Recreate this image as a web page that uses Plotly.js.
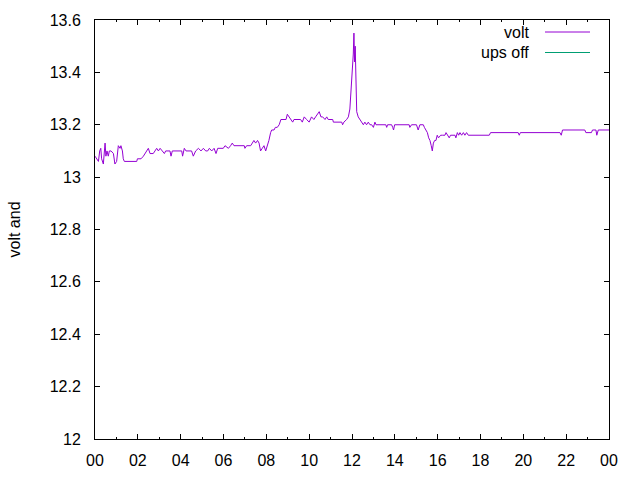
<!DOCTYPE html>
<html>
<head>
<meta charset="utf-8">
<script src="https://cdn.plot.ly/plotly-3.0.1.min.js"></script>
<style>html,body{margin:0;padding:0;background:#fff}#chart{width:640px;height:480px}</style>
</head>
<body>
<div id="chart"></div>
<script>
// time of day in hours
const hours = [
 0.00,0.09,0.16,0.22,0.27,0.31,0.39,0.47,0.51,0.56,0.62,0.67,0.75,0.86,0.93,1.01,1.09,1.17,1.21,1.28,1.32,1.37,
 1.95,1.98,2.15,2.26,2.41,2.49,2.57,2.65,2.72,2.80,2.88,2.96,3.04,3.14,3.24,3.30,3.50,3.55,3.61,
 4.05,4.09,4.17,4.25,4.51,4.59,4.70,4.83,4.95,5.06,5.17,5.26,5.34,5.45,5.56,5.65,5.73,5.84,5.99,
 6.07,6.23,6.33,6.41,6.49,6.61,6.97,7.00,7.08,7.27,7.35,7.42,7.50,7.59,7.66,7.73,7.81,7.89,7.97,
 8.05,8.12,8.20,8.25,8.36,8.42,8.51,8.60,8.68,8.79,8.92,8.98,9.06,9.13,9.23,9.29,9.60,9.68,9.77,9.88,
 10.00,10.11,10.22,10.30,10.38,10.47,10.55,10.63,10.74,10.82,10.89,11.10,11.13,11.52,11.56,11.62,11.75,11.83,11.90,
 11.93,12.00,12.03,12.06,12.09,12.12,12.15,12.17,12.18,12.22,12.29,12.37,12.45,12.53,12.60,12.68,12.76,12.84,12.92,
 13.00,13.07,13.12,13.58,13.62,13.66,13.85,13.90,13.94,13.99,14.67,14.70,14.78,15.01,15.09,15.17,15.33,15.38,15.45,
 15.52,15.58,15.64,15.70,15.75,15.80,15.86,15.92,15.98,16.04,16.14,16.23,16.34,16.39,16.45,16.54,16.60,16.81,16.85,
 16.92,16.98,17.04,17.12,17.20,17.27,17.35,17.43,18.41,18.47,19.76,19.81,19.86,21.71,21.77,21.83,22.87,22.92,
 23.18,23.23,23.39,23.43,23.50,24.00
];
// battery voltage
const volts = [
 13.08,13.07,13.06,13.10,13.11,13.07,13.05,13.13,13.08,13.10,13.08,13.10,13.10,13.09,13.05,13.06,13.12,13.11,13.12,13.10,13.07,13.06,
 13.06,13.07,13.07,13.08,13.10,13.11,13.09,13.09,13.09,13.10,13.11,13.10,13.11,13.10,13.09,13.10,13.10,13.08,13.10,
 13.10,13.08,13.11,13.10,13.10,13.08,13.10,13.11,13.10,13.11,13.10,13.10,13.11,13.10,13.11,13.09,13.11,13.11,13.11,
 13.12,13.11,13.12,13.13,13.12,13.12,13.12,13.11,13.12,13.12,13.13,13.14,13.13,13.14,13.13,13.10,13.11,13.12,13.10,
 13.12,13.14,13.17,13.18,13.18,13.19,13.19,13.20,13.22,13.22,13.22,13.24,13.23,13.22,13.21,13.22,13.22,13.21,13.23,13.22,
 13.21,13.23,13.22,13.23,13.24,13.25,13.23,13.23,13.22,13.23,13.22,13.22,13.21,13.21,13.20,13.21,13.22,13.23,13.26,
 13.30,13.37,13.44,13.47,13.55,13.44,13.50,13.40,13.32,13.25,13.23,13.22,13.21,13.20,13.21,13.20,13.21,13.20,13.20,
 13.19,13.21,13.20,13.20,13.19,13.20,13.20,13.19,13.18,13.20,13.20,13.19,13.20,13.20,13.18,13.20,13.20,13.19,13.18,
 13.17,13.15,13.14,13.12,13.10,13.13,13.14,13.14,13.16,13.15,13.16,13.16,13.16,13.17,13.16,13.15,13.16,13.16,13.15,
 13.17,13.16,13.17,13.16,13.17,13.16,13.17,13.16,13.16,13.17,13.17,13.16,13.17,13.17,13.16,13.18,13.18,13.17,
 13.17,13.18,13.18,13.16,13.18,13.18
];
// "ups off" series: no points inside the plotted range
const upsOffHours = [];
const upsOffValues = [];

const xTickVals = [0,2,4,6,8,10,12,14,16,18,20,22,24];
const xTickText = ["00","02","04","06","08","10","12","14","16","18","20","22","00"];
const seriesNames = ["volt","ups off"];
const seriesColors = ["#9400d3","#009e73"];

const FONT = "Liberation Sans, Arial, sans-serif";
const FS = 16;
const L = 95, R = 609, T = 20, B = 439;
const px = x => (x - L) / (R - L);
const py = y => (B - y) / (B - T);

const traces = [
  {x: hours, y: volts, type: "scatter", mode: "lines", name: seriesNames[0],
   line: {color: seriesColors[0], width: 1}, showlegend: false, hoverinfo: "skip"},
  {x: upsOffHours, y: upsOffValues, type: "scatter", mode: "lines", name: seriesNames[1],
   line: {color: seriesColors[1], width: 1}, showlegend: false, hoverinfo: "skip"}
];

const axisCommon = {
  showgrid: false, zeroline: false, showline: true, linecolor: "#000", linewidth: 1,
  mirror: "ticks", ticks: "inside", ticklen: 5, tickwidth: 1, tickcolor: "#000",
  tickfont: {family: FONT, size: FS, color: "#000"}
};

const annotations = [], shapes = [];
seriesNames.forEach((n, i) => {
  const yy = 32 + i * 20.5;
  annotations.push({xref: "paper", yref: "paper", x: px(531), y: py(yy), xanchor: "right", yanchor: "middle",
    text: n, showarrow: false, font: {family: FONT, size: FS, color: "#000"}});
  shapes.push({type: "line", xref: "paper", yref: "paper", x0: px(545), x1: px(590), y0: py(yy), y1: py(yy),
    line: {color: seriesColors[i], width: 1}});
});

const layout = {
  width: 640, height: 480,
  margin: {l: L, r: 640 - R, t: T, b: 480 - B, pad: 0},
  paper_bgcolor: "#fff", plot_bgcolor: "#fff",
  showlegend: false,
  font: {family: FONT, size: FS, color: "#000"},
  xaxis: Object.assign({}, axisCommon, {range: [0, 24], tickvals: xTickVals, ticktext: xTickText, ticklabelstandoff: 7,
    minor: {tick0: 0, dtick: 1, ticks: "inside", ticklen: 2, tickwidth: 1, tickcolor: "#000", showgrid: false}}),
  yaxis: Object.assign({}, axisCommon, {range: [12, 13.6], tick0: 12, dtick: 0.2, ticklabelstandoff: 10,
    title: {text: "volt and", font: {family: FONT, size: FS, color: "#000"}, standoff: 25}}),
  annotations: annotations,
  shapes: shapes
};

Plotly.newPlot("chart", traces, layout, {staticPlot: true, displayModeBar: false});
</script>
</body>
</html>
